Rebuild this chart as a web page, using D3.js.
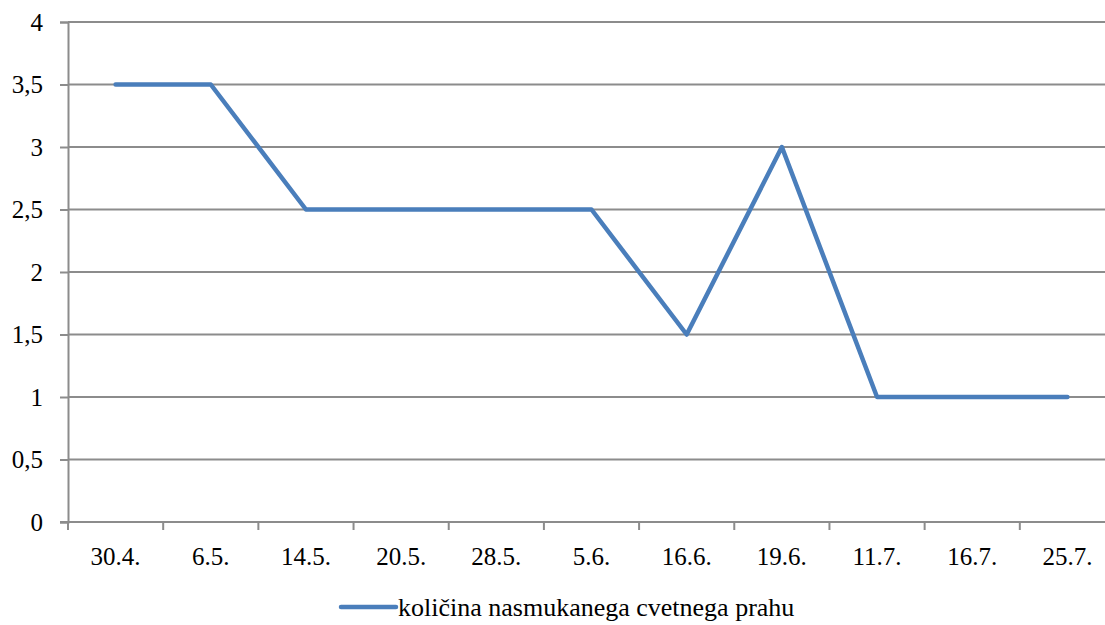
<!DOCTYPE html>
<html lang="sl">
<head>
  <meta charset="UTF-8">
  <title>Količina nasmukanega cvetnega prahu</title>
  <script src="https://d3js.org/d3.v7.min.js"></script>
  <style>
    body {
      margin: 0;
      background: #fff;
      overflow: hidden;
    }
    svg text {
      font-family: "Liberation Serif", "Times New Roman", "DejaVu Serif", serif;
      font-size: 25px;
      fill: #000;
    }
    svg text.legend-text {
      font-size: 26px;
    }
  </style>
</head>
<body>
  <svg width="1105" height="625"></svg>
  <script>
    const dates = ["30.4.", "6.5.", "14.5.", "20.5.", "28.5.", "5.6.", "16.6.", "19.6.", "11.7.", "16.7.", "25.7."];
    const values = [3.5, 3.5, 2.5, 2.5, 2.5, 2.5, 1.5, 3, 1, 1, 1];
    const yTicks = [0, 0.5, 1, 1.5, 2, 2.5, 3, 3.5, 4];
    const seriesName = "količina nasmukanega cvetnega prahu";

    const margin = {top: 22, left: 68},
          width = 1047,
          height = 500;

    const svg = d3.select("svg")
      .append("g")
      .attr("transform", `translate(${margin.left},${margin.top})`);

    const x = d3.scaleBand()
      .domain(dates)
      .range([0, width]);

    const y = d3.scaleLinear()
      .domain([0, 4])
      .range([height, 0]);

    const gridColor = "#8c8c8c";

    // horizontal gridlines
    svg.append("g")
      .selectAll("line")
      .data(yTicks.filter(d => d > 0))
      .join("line")
      .attr("x1", 0)
      .attr("x2", width)
      .attr("y1", d => y(d))
      .attr("y2", d => y(d))
      .attr("stroke", gridColor)
      .attr("stroke-width", 2);

    // y axis
    const yAxis = svg.append("g")
      .call(d3.axisLeft(y).tickValues(yTicks).tickSize(8).tickPadding(17)
        .tickFormat(d => String(d).replace(".", ",")))
      .attr("font-family", null)
      .attr("font-size", null);
    yAxis.select(".domain").attr("stroke", gridColor).attr("stroke-width", 2);
    yAxis.selectAll(".tick line").attr("stroke", gridColor).attr("stroke-width", 2);

    // x axis with ticks at category boundaries
    const xAxis = svg.append("g")
      .attr("transform", `translate(0,${height})`)
      .call(d3.axisBottom(x).tickSize(0).tickPadding(25))
      .attr("font-family", null)
      .attr("font-size", null);
    xAxis.select(".domain").remove();

    svg.append("line")
      .attr("x1", -8).attr("x2", width)
      .attr("y1", height).attr("y2", height)
      .attr("stroke", gridColor).attr("stroke-width", 2);

    svg.append("g")
      .selectAll("line")
      .data(dates)
      .join("line")
      .attr("x1", d => x(d))
      .attr("x2", d => x(d))
      .attr("y1", height)
      .attr("y2", height + 8)
      .attr("stroke", gridColor)
      .attr("stroke-width", 2);

    // series line
    const line = d3.line()
      .x((d, i) => x(dates[i]) + x.bandwidth() / 2)
      .y(d => y(d));

    svg.append("path")
      .datum(values)
      .attr("fill", "none")
      .attr("stroke", "#4a7ebb")
      .attr("stroke-width", 4.5)
      .attr("stroke-linejoin", "round")
      .attr("stroke-linecap", "round")
      .attr("d", line);

    // legend
    const legend = d3.select("svg").append("g")
      .attr("transform", "translate(341,607)");
    legend.append("line")
      .attr("x1", 0).attr("x2", 55)
      .attr("stroke", "#4a7ebb")
      .attr("stroke-width", 4.5)
      .attr("stroke-linecap", "round");
    legend.append("text")
      .attr("class", "legend-text")
      .attr("x", 57)
      .attr("y", 9)
      .text(seriesName);
  </script>
</body>
</html>
